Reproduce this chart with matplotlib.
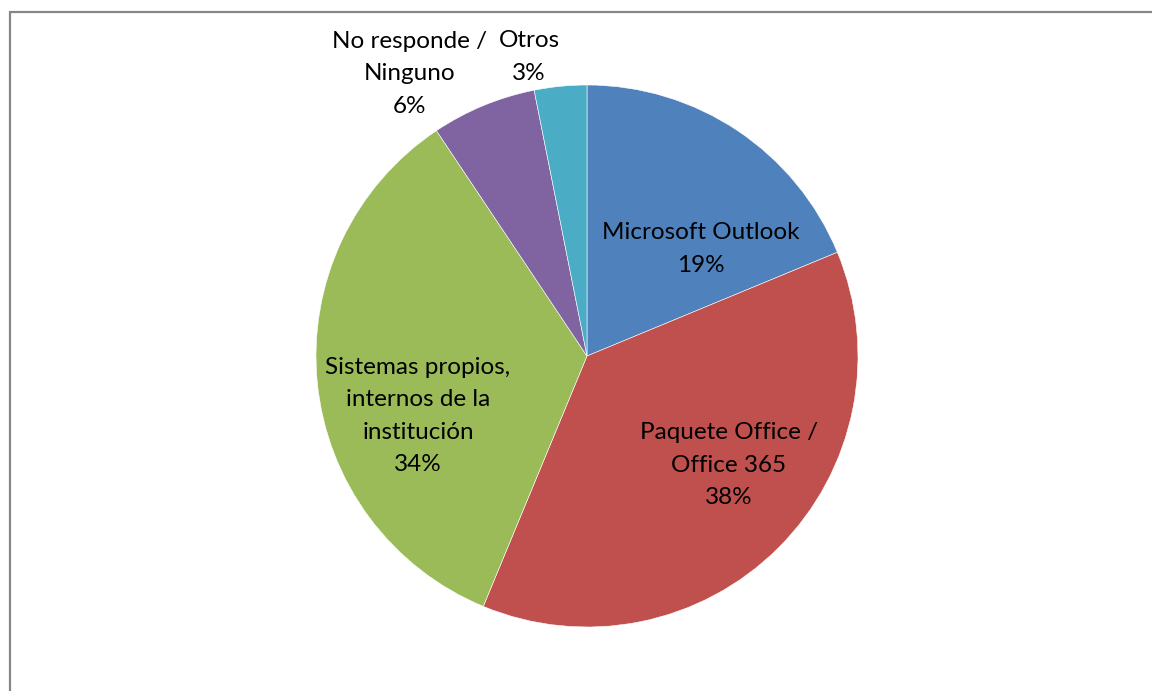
import matplotlib
matplotlib.use("Agg")
import matplotlib.pyplot as plt
from matplotlib.patches import Rectangle

categories = ["Microsoft Outlook", "Paquete Office /\nOffice 365",
              "Sistemas propios,\ninternos de la\ninstitución",
              "No responde /\nNinguno", "Otros"]
values = [18.75, 37.5, 34.375, 6.25, 3.125]
pct_labels = ["19%", "38%", "34%", "6%", "3%"]
colors = ["#4F81BD", "#C0504D", "#9BBB59", "#8064A2", "#4BACC6"]

W, H = 1152, 691
cx, cy, R = 587, 356, 271

fig = plt.figure(figsize=(W / 100, H / 100), dpi=100)
ax = fig.add_axes([0, 0, 1, 1])

ax.pie(values, colors=colors, startangle=90, counterclock=False,
       radius=1.0, center=(0, 0), frame=True,
       wedgeprops=dict(edgecolor="white", linewidth=0.4))
ax.set_xlim(-cx / R, (W - cx) / R)
ax.set_ylim(-(H - cy) / R, cy / R)
ax.set_aspect("auto")
ax.axis("off")

# label centres in pixels (layout only)
label_px = [(701, 249), (729, 465), (418, 416), (410, 74), (529, 57)]
for name, pct, (px, py) in zip(categories, pct_labels, label_px):
    ax.text((px - cx) / R, (cy - py) / R, f"{name}\n{pct}",
            ha="center", va="center", fontsize=17.5, family="Lato",
            color="black", linespacing=1.65, multialignment="center")

# chart border (top and left visible)
fig.patches.append(Rectangle((10 / W, -0.1), 2.0, 1.1 - 12.5 / H,
                             transform=fig.transFigure, fill=False,
                             edgecolor="#878787", linewidth=1.6))

fig.savefig("out.png", dpi=100)
